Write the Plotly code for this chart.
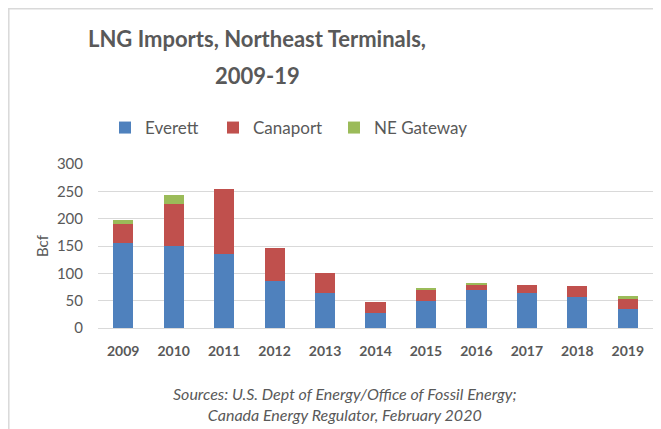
import plotly.graph_objects as go

years = ["2009", "2010", "2011", "2012", "2013", "2014", "2015", "2016", "2017", "2018", "2019"]
everett = [155, 150, 135, 86, 64, 27, 49, 69, 64, 56, 35]
canaport = [36, 76, 119, 61, 36, 21, 22, 11, 14, 21, 18]
ne_gateway = [6, 17, 0, 0, 0, 0, 3, 3, 0, 0, 6]
y_ticks = [0, 50, 100, 150, 200, 250, 300]

FONT = "Lato, 'Open Sans', sans-serif"
GREY = "#595959"

fig = go.Figure()
for name, vals, col, lg in [("Everett", everett, "#4F81BD", "legend"),
                            ("Canaport", canaport, "#C0504D", "legend2"),
                            ("NE Gateway", ne_gateway, "#9BBB59", "legend3")]:
    fig.add_trace(go.Bar(x=years, y=vals, name=name, marker_color=col,
                         marker_line_width=0, legend=lg))

# page has an 8px body margin: figure pixel = screenshot pixel - 8
OFF = 8
W, H = 661 - OFF, 429 - OFF
L, R, T, B = 98 - OFF, 8, 164 - OFF, 101
pw, ph = W - L - R, H - T - B

def px(x):  # screenshot x -> paper
    return (x - OFF - L) / pw

def py(y):  # screenshot y -> paper
    return (H - B - (y - OFF)) / ph

def leg(x):
    return dict(orientation="h", x=px(x), xanchor="left", y=py(128), yanchor="middle",
                font=dict(size=17, color=GREY), itemwidth=30, bgcolor="rgba(0,0,0,0)")

fig.update_layout(
    width=W, height=H,
    margin=dict(l=L, r=R, t=T, b=B),
    barmode="stack", bargap=0.6,
    plot_bgcolor="white", paper_bgcolor="white",
    font=dict(family=FONT, color=GREY),
    showlegend=True,
    legend=leg(105), legend2=leg(213), legend3=leg(334),
    xaxis=dict(type="category", showgrid=False, showline=True, linecolor="#D9D9D9", linewidth=1,
               ticks="", ticklabelstandoff=10,
               tickfont=dict(size=14, color=GREY, family=FONT, weight="bold")),
    yaxis=dict(range=[0, 300], tickvals=y_ticks, showgrid=True, gridcolor="#D9D9D9", gridwidth=1,
               zeroline=False, showline=False, ticks="", ticklabelstandoff=14,
               tickfont=dict(size=15, color=GREY),
               title=dict(text="Bcf", font=dict(size=15, color=GREY), standoff=4)),
    title=dict(text="<b>LNG Imports, Northeast Terminals,</b>",
               x=(257 - OFF) / W, xanchor="center", y=1 - (39 - OFF) / H, yanchor="middle",
               font=dict(size=22, color=GREY, family=FONT)),
)

fig.add_annotation(text="<b>2009-19</b>", xref="paper", yref="paper", x=px(257), y=py(75),
                   xanchor="center", yanchor="middle", showarrow=False,
                   font=dict(size=22, color=GREY, family=FONT))

fig.add_annotation(text="<i>Sources: U.S. Dept of Energy/Office of Fossil Energy;<br>Canada Energy Regulator, February 2020</i>",
                   xref="paper", yref="paper", x=px(345), y=py(404), xanchor="center", yanchor="middle",
                   showarrow=False, font=dict(size=16, color=GREY, family=FONT), align="center")

fig.add_shape(type="line", xref="paper", yref="paper", x0=px(8), x1=px(661), y0=py(8.8), y1=py(8.8),
              line=dict(color="#D9D9D9", width=1.5))
fig.add_shape(type="line", xref="paper", yref="paper", x0=px(8.8), x1=px(8.8), y0=py(8), y1=py(429),
              line=dict(color="#D9D9D9", width=1.5))

fig.write_html("out.html")
